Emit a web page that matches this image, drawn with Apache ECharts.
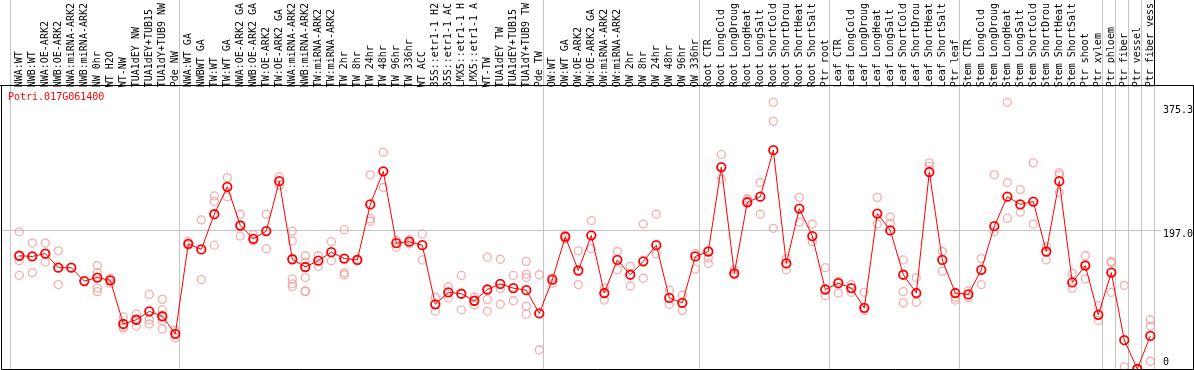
<!DOCTYPE html>
<html><head><meta charset="utf-8">
<script src="https://cdn.jsdelivr.net/npm/echarts@6/dist/echarts.min.js"></script>
<style>html,body{margin:0;padding:0;background:#fff}#c{width:1194px;height:370px}</style>
</head><body><div id="c"></div>
<script>
const geneTitle = 'Potri.017G061400';
const categories = [
  'NWA:WT','NWB:WT','NWA:OE-ARK2','NWB:OE-ARK2','NWA:miRNA-ARK2','NWB:miRNA-ARK2','NW 0hr','WT H2O','WT-NW','TUA1dEY NW','TUA1dEY+TUB15','TUA1dY+TUB9 NW','Pde NW',
  'NWA:WT GA','NWBWT GA','TW:WT','TW:WT GA','NWA:OE-ARK2 GA','NWB:OE-ARK2 GA','TW:OE-ARK2','TW:OE-ARK2 GA','NWA:miRNA-ARK2','NWB:miRNA-ARK2','TW:miRNA-ARK2','TW:miRNA-ARK2 ',
  'TW 2hr','TW 8hr','TW 24hr','TW 48hr','TW 96hr','TW 336hr','WT ACC','35S::etr1-1 H2','35S::etr1-1 AC','LMX5::etr1-1 H','LMX5::etr1-1 A','WT-TW','TUA1dEY TW','TUA1dEY+TUB15 ','TUA1dY+TUB9 TW','Pde TW',
  'OW:WT','OW:WT GA','OW:OE-ARK2','OW:OE-ARK2 GA','OW:miRNA-ARK2','OW:miRNA-ARK2 ','OW 2hr','OW 8hr','OW 24hr','OW 48hr','OW 96hr','OW 336hr',
  'Root CTR','Root LongCold','Root LongDroug','Root LongHeat','Root LongSalt','Root ShortCold','Root ShortDrou','Root ShortHeat','Root ShortSalt','Ptr root',
  'Leaf CTR','Leaf LongCold','Leaf LongDroug','Leaf LongHeat','Leaf LongSalt','Leaf ShortCold','Leaf ShortDrou','Leaf ShortHeat','Leaf ShortSalt','Ptr leaf',
  'Stem CTR','Stem LongCold','Stem LongDroug','Stem LongHeat','Stem LongSalt','Stem ShortCold','Stem ShortDrou','Stem ShortHeat','Stem ShortSalt','Ptr shoot','Ptr xylem',
  'Ptr phloem','Ptr fiber','Ptr vessel','Ptr fiber vess'
];
const means = [
  161,160,164,144,144,125,130,126,64,70,82,75,50,
  178,170,220,259,204,185,196,267,156,145,154,166,157,155,234,281,179,181,176,92,109,107,97,113,121,115,112,79,
  127,188,140,190,108,155,134,153,176,101,94,160,
  167,287,136,237,245,311,150,228,189,113,
  122,115,87,221,197,134,108,280,155,108,
  106,141,203,245,234,238,167,267,123,147,77,
  137,41,0,47
];
const replicates = [
  [195,154,133],[179,160,137],[179,164,152],[168,144,120],[182,128,121],[152,111,110],[147,137,115,110],[129,122,126],[74,58,60],[78,61,70],[106,70,64],[99,84,69,57],[55,44,50],
  [181,176],[212,127],[246,238,176],[272,245],[220,189],[191,182],[220,171],[273,261],[196,117],[161,130],[161,146],[181,154],[198,137,134],[156,154],[276,214,210],[308,258],[183,173],[184,178],[192,155],[102,82],[117,101],[133,84],[102,91],[159,99,82],[156,114,92],[133,97],[153,135,130,89,78],[134,27],
  [130,122],[190,184],[168,120],[211,171],[115,98],[167,141],[146,118],[206,129],[220,164],[112,92],[105,83],[164,142],
  [158,150],[305,270],[141,134],[242,239],[265,220],[379,352,200],[157,141],[244,209],[206,181],[144,104],
  [125,108],[120,109],[109,83],[244,206],[216,207],[155,110,94],[130,95],[293,288],[167,139],[102,98],
  [111,101],[157,120],[276,195],[379,265,214],[255,223],[293,206],[174,155],[279,276,251],[136,115],[161,128,149],[90,69],
  [153,151,109],[119,3],[0,0],[70,61,11]
];
const tickValues = [375.3, 197.0, 0];
const tickLabels = ['375.3', '197.0', '0'];
const groupStarts = [0, 13, 41, 53, 63, 73, 84, 85, 86, 87, 88];

const mono = 'DejaVu Sans Mono';
const repPoints = [];
replicates.forEach((arr, i) => arr.forEach(v => repPoints.push([categories[i], v])));

const chart = echarts.init(document.getElementById('c'), null, {renderer: 'canvas'});
const option = {
  animation: false,
  backgroundColor: '#fff',
  title: {
    text: geneTitle, left: 8, top: 91, padding: 0,
    textStyle: {color: '#ff0000', fontSize: 10, fontFamily: mono, fontWeight: 'normal', lineHeight: 12}
  },
  grid: {left: 12.8, right: 37.2, top: 85, bottom: 1, containLabel: false},
  xAxis: {
    type: 'category', position: 'top', data: categories, boundaryGap: true,
    axisLine: {show: false}, axisTick: {show: false}, splitLine: {show: false},
    axisLabel: {interval: 0, rotate: 90, margin: 2, fontFamily: mono, fontSize: 10, color: '#000'}
  },
  yAxis: {
    type: 'value', min: 0, max: 397.6, show: false, splitLine: {show: false}
  },
  series: [
    {
      type: 'scatter', data: repPoints, symbol: 'circle', symbolSize: 8,
      itemStyle: {color: 'rgba(0,0,0,0)', borderColor: '#ef9a9a', borderWidth: 1.3},
      z: 2, silent: true
    },
    {
      type: 'line', data: means, symbol: 'circle', symbolSize: 8.5, showAllSymbol: true,
      itemStyle: {color: 'rgba(0,0,0,0)', borderColor: '#ff0000', borderWidth: 1.8},
      lineStyle: {color: '#ff0000', width: 1},
      z: 3, silent: true, clip: false
    }
  ]
};
chart.setOption(option);

const cx0 = chart.convertToPixel({xAxisIndex: 0}, categories[0]);
const cx1 = chart.convertToPixel({xAxisIndex: 0}, categories[1]);
const bw = cx1 - cx0;
const yOf = v => chart.convertToPixel({yAxisIndex: 0}, v);
const graphics = [];
groupStarts.forEach(k => {
  const x = Math.floor(cx0 - bw / 2 + bw * k - 2.3) + 0.5;
  graphics.push({type: 'line', shape: {x1: x, y1: 0, x2: x, y2: 369}, style: {stroke: '#c4c4c4', lineWidth: 1}, z: 1, silent: true});
});
const yMid = Math.round(yOf(tickValues[1])) + 0.5;
graphics.push({type: 'line', shape: {x1: 1, y1: yMid, x2: 1161, y2: yMid}, style: {stroke: '#c4c4c4', lineWidth: 1}, z: 1, silent: true});
const lastX = Math.floor(cx0 - bw / 2 + bw * 88 - 2.3) + 0.5;
graphics.push({type: 'line', shape: {x1: lastX, y1: 0, x2: lastX, y2: 85.5}, style: {stroke: '#000', lineWidth: 1}, z: 5, silent: true});
graphics.push({type: 'line', shape: {x1: 0, y1: 85.5, x2: 1194, y2: 85.5}, style: {stroke: '#000', lineWidth: 1}, z: 5, silent: true});
graphics.push({type: 'polyline', shape: {points: [[1.5, 85.5], [1.5, 369.5], [1193.5, 369.5], [1193.5, 85.5]]}, style: {stroke: '#000', lineWidth: 1, fill: null}, z: 5, silent: true});
const aligns = ['top', 'middle', 'bottom'];
const offs = [0, 4, -2];
tickValues.forEach((v, i) => {
  graphics.push({type: 'text', x: 1163, y: yOf(v) + offs[i],
    style: {text: tickLabels[i], fontFamily: mono, fontSize: 10, fill: '#000', textAlign: 'left', textVerticalAlign: aligns[i], verticalAlign: aligns[i]}, z: 5, silent: true});
});
chart.setOption({graphic: graphics});
</script>
</body></html>
